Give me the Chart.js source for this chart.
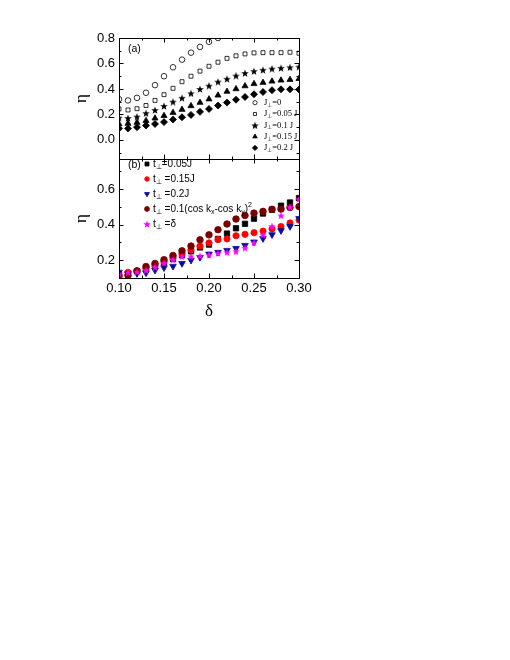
<!DOCTYPE html>
<html>
<head>
<meta charset="utf-8">
<script src="https://cdn.jsdelivr.net/npm/chart.js@4.4.0/dist/chart.umd.min.js"></script>
<style>
  body { margin: 0; background: #fff; }
  #wrap { position: relative; width: 510px; height: 660px; }
  canvas { position: absolute; left: 0; }
</style>
</head>
<body>
<div id="wrap">
  <canvas id="chartA" width="320" height="190" style="top:0px"></canvas>
  <canvas id="chartB" width="320" height="220" style="top:130px"></canvas>
</div>
<script>
// delta values (x)
const delta = [0.10, 0.11, 0.12, 0.13, 0.14, 0.15, 0.16, 0.17, 0.18, 0.19, 0.20,
               0.21, 0.22, 0.23, 0.24, 0.25, 0.26, 0.27, 0.28, 0.29, 0.30];

// panel (a)
const etaJ0   = [0.32, 0.31, 0.33, 0.37, 0.43, 0.50, 0.57, 0.63, 0.685, 0.73, 0.77, 0.80];
const etaJ005 = [0.243, 0.235, 0.245, 0.27, 0.31, 0.355, 0.405, 0.457, 0.50, 0.54, 0.578,
                 0.61, 0.64, 0.66, 0.675, 0.683, 0.685, 0.685, 0.685, 0.688, 0.68];
const etaJ01  = [0.175, 0.172, 0.183, 0.21, 0.235, 0.267, 0.30, 0.33, 0.366, 0.40, 0.426,
                 0.457, 0.48, 0.505, 0.525, 0.54, 0.55, 0.56, 0.565, 0.57, 0.575];
const etaJ015 = [0.125, 0.128, 0.136, 0.15, 0.17, 0.19, 0.214, 0.238, 0.267, 0.293, 0.32,
                 0.35, 0.38, 0.40, 0.423, 0.44, 0.45, 0.46, 0.468, 0.473, 0.48];
const etaJ02  = [0.09, 0.09, 0.10, 0.113, 0.125, 0.14, 0.16, 0.178, 0.196, 0.22, 0.243,
                 0.27, 0.293, 0.316, 0.337, 0.358, 0.376, 0.39, 0.397, 0.397, 0.395];

// panel (b)
const etaT005 = [0.12, 0.125, 0.138, 0.15, 0.165, 0.186, 0.207, 0.228, 0.25, 0.272, 0.288,
                 0.32, 0.35, 0.38, 0.405, 0.434, 0.463, 0.484, 0.507, 0.525, 0.55];
const etaT015 = [0.118, 0.132, 0.14, 0.153, 0.172, 0.192, 0.215, 0.238, 0.258, 0.28, 0.298,
                 0.316, 0.32, 0.338, 0.346, 0.355, 0.364, 0.376, 0.39, 0.41, 0.426];
const etaT02  = [0.133, 0.125, 0.125, 0.129, 0.144, 0.158, 0.166, 0.182, 0.2, 0.216, 0.235,
                 0.245, 0.256, 0.267, 0.284, 0.303, 0.322, 0.344, 0.367, 0.39, 0.435];
const etaTcos = [0.11, 0.114, 0.14, 0.165, 0.182, 0.203, 0.227, 0.253, 0.28, 0.315, 0.343,
                 0.372, 0.404, 0.432, 0.452, 0.465, 0.475, 0.487, 0.488, 0.497, 0.502];
const etaTdel = [0.125, 0.132, 0.135, 0.144, 0.163, 0.186, 0.204, 0.222, 0.222, 0.225, 0.232,
                 0.24, 0.245, 0.25, 0.27, 0.3, 0.344, 0.392, 0.452, 0.5, 0.545];

// ticks
const xTicks  = [0.10, 0.15, 0.20, 0.25, 0.30];
const xMinor  = [0.125, 0.175, 0.225, 0.275];
const yTicksA = [0.0, 0.2, 0.4, 0.6, 0.8];
const yMinorA = [-0.1, 0.1, 0.3, 0.5, 0.7];
const yTicksB = [0.2, 0.4, 0.6];
const yMinorB = [0.3, 0.5, 0.7];

// legend texts: [text, "sub"/"sup"/""]
const legendA = [
  [["J", ""], ["\u22A5", "sub"], ["=0", ""]],
  [["J", ""], ["\u22A5", "sub"], ["=0.05 J", ""]],
  [["J", ""], ["\u22A5", "sub"], ["=0.1 J", ""]],
  [["J", ""], ["\u22A5", "sub"], ["=0.15 J", ""]],
  [["J", ""], ["\u22A5", "sub"], ["=0.2 J", ""]]
];
const legendB = [
  [["t", ""], ["\u22A5", "sub"], ["=0.05J", ""]],
  [["t", ""], ["\u22A5", "sub"], [" =0.15J", ""]],
  [["t", ""], ["\u22A5", "sub"], [" =0.2J", ""]],
  [["t", ""], ["\u22A5", "sub"], [" =0.1(cos k", ""], ["x", "sub"], ["-cos k", ""], ["y", "sub"], [")", ""], ["2", "sup"]],
  [["t", ""], ["\u22A5", "sub"], [" =\u03B4", ""]]
];

const SANS = "'Liberation Sans', Arial, sans-serif";
const SERIF = "'Liberation Serif', 'Times New Roman', serif";

// filled 5-point star as a point image
function makeStar(color, size) {
    const c = document.createElement("canvas");
    c.width = size; c.height = size;
    const g = c.getContext("2d");
    const R = size / 2, r = R * 0.42;
    g.beginPath();
    for (let i = 0; i < 10; i++) {
        const rad = i % 2 ? r : R;
        const ang = -Math.PI / 2 + i * Math.PI / 5;
        const px = R + rad * Math.cos(ang), py = R + 0.6 + rad * Math.sin(ang);
        if (i) g.lineTo(px, py); else g.moveTo(px, py);
    }
    g.closePath();
    g.fillStyle = color;
    g.fill();
    return c;
}

function pts(ys) {
    return ys.map((y, i) => ({ x: delta[i], y: y }));
}

function drawRich(ctx, x, y, parts, size, family) {
    parts.forEach(([t, kind]) => {
        const s = kind ? size * 0.7 : size;
        ctx.font = s + "px " + family;
        const dy = kind === "sub" ? size * 0.3 : kind === "sup" ? -size * 0.4 : 0;
        ctx.fillText(t, x, y + dy);
        x += ctx.measureText(t).width;
    });
}

// frame with inward ticks on all four sides
function framePlugin(yMajor, yMinor) {
    return {
        id: "frame",
        afterDatasetsDraw(chart) {
            const { ctx, chartArea: a, scales } = chart;
            ctx.save();
            ctx.strokeStyle = "#000";
            ctx.lineWidth = 1;
            ctx.beginPath();
            const tick = (x1, y1, x2, y2) => { ctx.moveTo(x1, y1); ctx.lineTo(x2, y2); };
            [[xTicks, 4.5], [xMinor, 2.5]].forEach(([vals, len]) => {
                vals.forEach(v => {
                    const px = Math.round(scales.x.getPixelForValue(v)) + 0.5;
                    tick(px, a.bottom, px, a.bottom - len);
                    tick(px, a.top, px, a.top + len);
                });
            });
            [[yMajor, 4.5], [yMinor, 2.5]].forEach(([vals, len]) => {
                vals.forEach(v => {
                    const py = Math.round(scales.y.getPixelForValue(v)) + 0.5;
                    tick(a.left, py, a.left + len, py);
                    tick(a.right, py, a.right - len, py);
                });
            });
            ctx.stroke();
            ctx.strokeRect(Math.round(a.left) + 0.5, Math.round(a.top) + 0.5,
                           Math.round(a.right - a.left), Math.round(a.bottom - a.top));
            ctx.restore();
        }
    };
}

// legend drawn inside the plot
function legendPlugin(texts, tag, tagPos, x0, tx, y0, dy, size, family, symScale) {
    return {
        id: "insideLegend",
        afterDraw(chart) {
            const ctx = chart.ctx;
            ctx.save();
            ctx.fillStyle = "#000";
            ctx.textBaseline = "middle";
            ctx.font = "10.5px " + SANS;
            ctx.fillText(tag, tagPos[0], tagPos[1]);
            chart.data.datasets.forEach((ds, i) => {
                const y = y0 + i * dy;
                ctx.fillStyle = ds.backgroundColor;
                ctx.strokeStyle = ds.borderColor;
                ctx.lineWidth = ds.borderWidth;
                Chart.helpers.drawPoint(ctx, {
                    pointStyle: ds.pointStyle,
                    rotation: ds.rotation || 0,
                    radius: ds.pointRadius * symScale,
                    borderWidth: ds.borderWidth
                }, x0, y);
                ctx.fillStyle = "#000";
                drawRich(ctx, tx, y, texts[i], size, family);
            });
            ctx.restore();
        }
    };
}

function makeChart(id, datasets, yMin, yMax, yTicks, showX, pad, plugins) {
    return new Chart(document.getElementById(id), {
        type: "scatter",
        data: { datasets: datasets },
        options: {
            responsive: false,
            animation: false,
            layout: { padding: pad },
            plugins: { legend: { display: false }, tooltip: { enabled: false } },
            scales: {
                x: {
                    type: "linear", min: 0.10, max: 0.30, display: showX,
                    grid: { display: false, drawTicks: false },
                    border: { display: false },
                    afterBuildTicks: s => { s.ticks = xTicks.map(v => ({ value: v })); },
                    afterFit: s => { s.height = showX ? 44 : 0; },
                    ticks: {
                        padding: 3, color: "#000", autoSkip: false, maxRotation: 0,
                        font: { family: SANS, size: 13 },
                        callback: v => v.toFixed(2)
                    },
                    title: { display: true, text: "\u03B4", color: "#000", padding: 0,
                             font: { family: SERIF, size: 17 } }
                },
                y: {
                    type: "linear", min: yMin, max: yMax,
                    grid: { display: false, drawTicks: false },
                    border: { display: false },
                    afterBuildTicks: s => { s.ticks = yTicks.map(v => ({ value: v })); },
                    afterFit: s => { s.width = 48; },
                    ticks: {
                        padding: 4, color: "#000",
                        font: { family: SANS, size: 13 },
                        callback: v => v.toFixed(1)
                    },
                    title: { display: true, text: "\u03B7", color: "#000", padding: 0,
                             font: { family: SERIF, size: 17 } }
                }
            }
        },
        plugins: plugins
    });
}

const starBlack = makeStar("#000", 8);
const starMag = makeStar("#ff00ff", 8);

const base = { showLine: false, clip: 0, borderWidth: 0.8 };

const dsA = [
    { ...base, label: "J=0", data: pts(etaJ0), pointStyle: "circle", pointRadius: 2.8,
      backgroundColor: "rgba(0,0,0,0)", borderColor: "#000" },
    { ...base, label: "J=0.05", data: pts(etaJ005), pointStyle: "rect", pointRadius: 2.8,
      backgroundColor: "rgba(0,0,0,0)", borderColor: "#000" },
    { ...base, label: "J=0.1", data: pts(etaJ01), pointStyle: starBlack, pointRadius: 3,
      backgroundColor: "#000", borderColor: "#000" },
    { ...base, label: "J=0.15", data: pts(etaJ015), pointStyle: "triangle", pointRadius: 3.5,
      backgroundColor: "#000", borderColor: "#000" },
    { ...base, label: "J=0.2", data: pts(etaJ02), pointStyle: "rectRot", pointRadius: 3.5,
      backgroundColor: "#000", borderColor: "#000" }
];

const dsB = [
    { ...base, label: "0.05J", data: pts(etaT005), pointStyle: "rect", pointRadius: 3.8,
      backgroundColor: "#000", borderColor: "#000", order: 5 },
    { ...base, label: "0.15J", data: pts(etaT015), pointStyle: "circle", pointRadius: 3.1,
      backgroundColor: "#ff0000", borderColor: "#ff0000", order: 4 },
    { ...base, label: "0.2J", data: pts(etaT02), pointStyle: "triangle", rotation: 180, pointRadius: 3.8,
      backgroundColor: "#0a0aa0", borderColor: "#0a0aa0", order: 3 },
    { ...base, label: "cos", data: pts(etaTcos), pointStyle: "circle", pointRadius: 3.3,
      backgroundColor: "#7a0000", borderColor: "#7a0000", order: 2 },
    { ...base, label: "delta", data: pts(etaTdel), pointStyle: starMag, pointRadius: 3,
      backgroundColor: "#ff00ff", borderColor: "#ff00ff", order: 1 }
];

makeChart("chartA", dsA, -0.15, 0.8, yTicksA, false,
    { left: 71, right: 21, top: 38, bottom: 31 },
    [framePlugin(yTicksA, yMinorA),
     legendPlugin(legendA, "(a)", [128, 49], 255, 264, 102.7, 11.3, 8.5, SERIF, 0.75)]);

makeChart("chartB", dsB, 0.10, 0.77, yTicksB, true,
    { left: 71, right: 21, top: 29, bottom: 28 },
    [framePlugin(yTicksB, yMinorB),
     legendPlugin(legendB, "(b)", [128, 35], 147, 153, 34, 15, 10, SANS, 0.75)]);
</script>
</body>
</html>
